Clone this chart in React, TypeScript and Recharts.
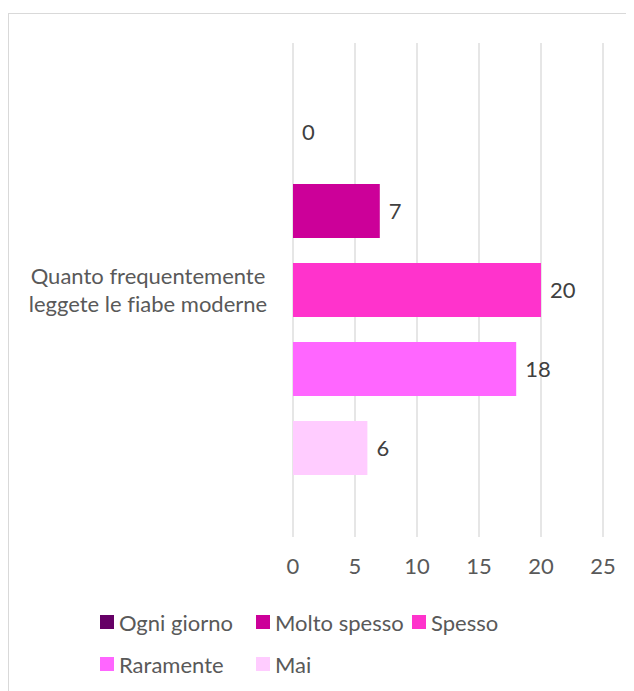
import React from "react";
import { BarChart, Bar, XAxis, YAxis, CartesianGrid, LabelList } from "recharts";

const categories = ["Quanto frequentemente leggete le fiabe moderne"];
const categoryLines = [["Quanto frequentemente", "leggete le fiabe moderne"]];
const seriesNames = ["Ogni giorno", "Molto spesso", "Spesso", "Raramente", "Mai"];
const seriesColors = ["#660066", "#CC0099", "#FF33CC", "#FF66FF", "#FFCCFF"];
const seriesValues = [[0], [7], [20], [18], [6]];
const xTicks = [0, 5, 10, 15, 20, 25];

const data = categories.map((name, i) => {
  const row: Record<string, any> = { name };
  seriesNames.forEach((s, j) => {
    row[s] = seriesValues[j][i];
  });
  return row;
});

const FONT = "Lato, 'Open Sans', sans-serif";
const FS = 22;

const CategoryTick = (props: any) => {
  const { y, payload } = props;
  const idx = categories.indexOf(payload.value);
  const lines = categoryLines[idx] || [payload.value];
  return (
    <g>
      {lines.map((l, k) => (
        <text
          key={k}
          x={140}
          y={y + (k - (lines.length - 1) / 2) * 28}
          dy="0.35em"
          textAnchor="middle"
          fill="#595959"
          fontSize={FS}
          fontFamily={FONT}
          style={{ fontVariantLigatures: "none" }}
        >
          {l}
        </text>
      ))}
    </g>
  );
};

const ValueLabel = (props: any) => {
  const { x, y, width, height, value } = props;
  if (value === undefined || value === null) return null;
  return (
    <text
      x={x + (width || 0) + 9}
      y={y + height / 2}
      dy="0.35em"
      textAnchor="start"
      fill="#404040"
      fontSize={FS}
      fontFamily={FONT}
    >
      {value}
    </text>
  );
};

export default function App() {
  return (
    <div style={{ position: "relative", width: 626, height: 683, overflow: "hidden", background: "#fff" }}>
      <div
        style={{
          position: "absolute",
          left: 0,
          top: 5,
          width: 660,
          height: 720,
          border: "1px solid #d9d9d9",
          boxSizing: "border-box",
        }}
      />
      <div style={{ position: "absolute", left: 0, top: 0 }}>
        <BarChart
          width={626}
          height={683}
          data={data}
          layout="vertical"
          margin={{ top: 35, right: 31, left: 0, bottom: 0 }}
          barSize={54}
          barGap={25}
        >
          <CartesianGrid horizontal={false} vertical={true} stroke="#d9d9d9" strokeWidth={1.3} />
          <XAxis
            type="number"
            domain={[0, 25]}
            ticks={xTicks}
            axisLine={false}
            tickLine={false}
            tickSize={0}
            tickMargin={21}
            height={154}
            tick={{ fill: "#595959", fontSize: FS, fontFamily: FONT }}
          />
          <YAxis
            type="category"
            dataKey="name"
            width={285}
            axisLine={false}
            tickLine={false}
            tick={<CategoryTick />}
          />
          {seriesNames.map((s, j) => (
            <Bar
              key={s}
              dataKey={s}
              fill={seriesColors[j]}
              isAnimationActive={false}
              minPointSize={0.001}
            >
              <LabelList dataKey={s} content={<ValueLabel />} />
            </Bar>
          ))}
        </BarChart>
      </div>
      {[0, 1].map((row) => (
        <div
          key={row}
          style={{ position: "absolute", left: 92, top: row === 0 ? 601 : 643, display: "flex", height: 26, alignItems: "center" }}
        >
          {seriesNames.slice(row * 3, row * 3 + 3).map((s, k) => {
            const j = row * 3 + k;
            return (
              <div key={s} style={{ display: "flex", alignItems: "center", width: 156, flexShrink: 0 }}>
                <div style={{ width: 14, height: 14, background: seriesColors[j], marginRight: 5, flexShrink: 0 }} />
                <span style={{ fontFamily: FONT, fontSize: FS, color: "#595959", whiteSpace: "nowrap" }}>{s}</span>
              </div>
            );
          })}
        </div>
      ))}
    </div>
  );
}
